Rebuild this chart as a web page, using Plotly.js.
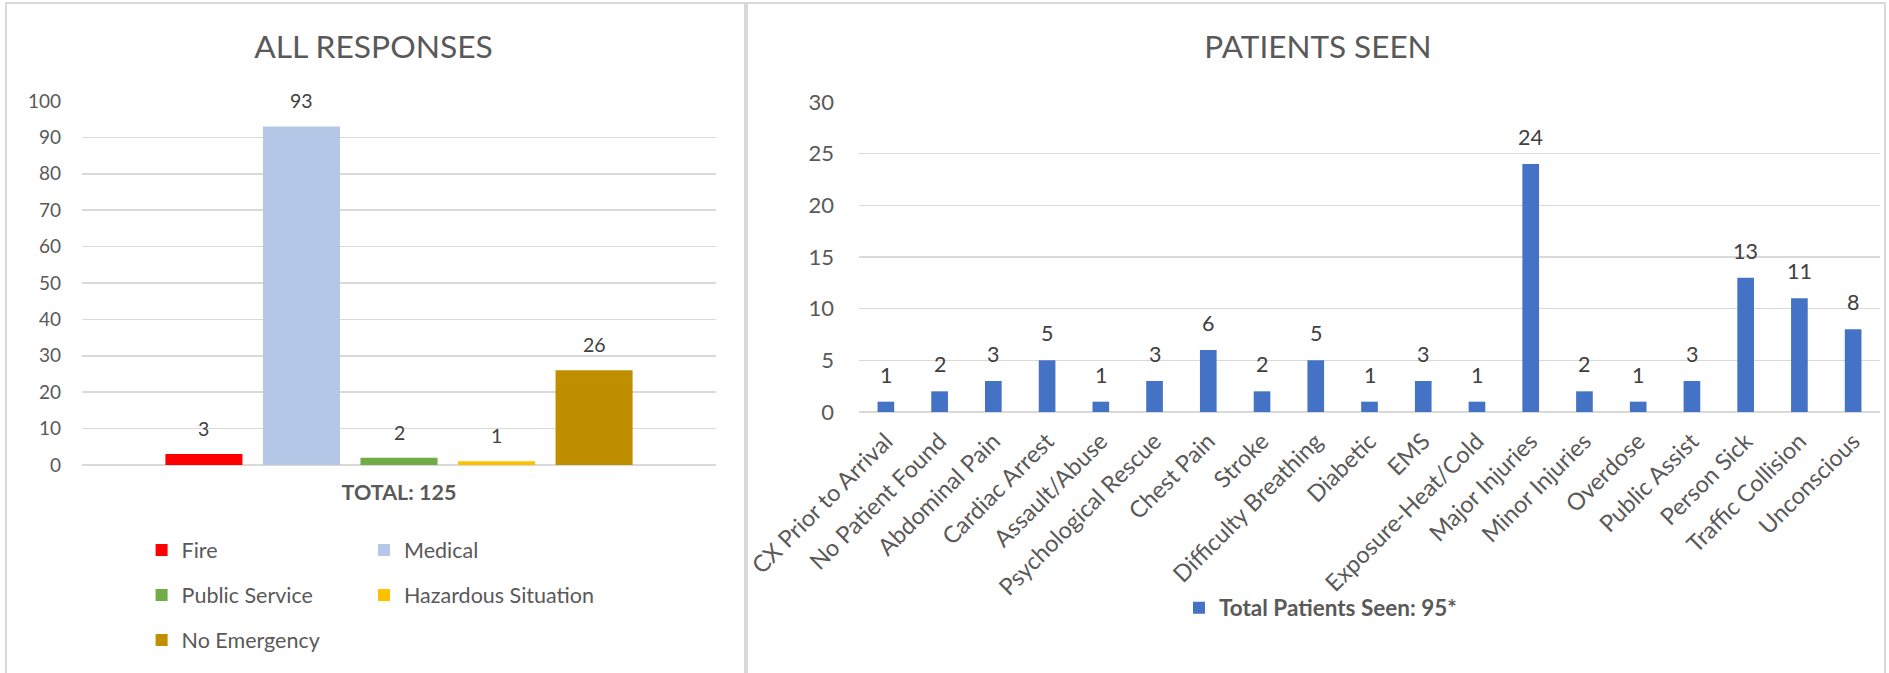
<!DOCTYPE html>
<html>
<head>
<meta charset="utf-8">
<script src="https://cdn.plot.ly/plotly-3.0.1.min.js"></script>
<style>
  html, body { margin: 0; padding: 0; background: #ffffff; }
  body { width: 1889px; height: 673px; position: relative; overflow: hidden; }
  #left { position: absolute; left: 0; top: 0; width: 747px; height: 673px; }
  #right { position: absolute; left: 747px; top: 0; width: 1142px; height: 673px; }
  .frame { position: absolute; border: 2px solid #d9d9d9; box-sizing: border-box; pointer-events: none; }
</style>
</head>
<body>
<div id="left"></div>
<div id="right"></div>
<div class="frame" style="left:5px; top:2px; width:741px; height:700px;"></div>
<div class="frame" style="left:746px; top:2px; width:1140px; height:700px;"></div>
<script>
// ---------- data: ALL RESPONSES ----------
const responseTitle = 'ALL RESPONSES';
const responseTotalLabel = 'TOTAL: 125';
const responseNames = ['Fire', 'Medical', 'Public Service', 'Hazardous Situation', 'No Emergency'];
const responseValues = [3, 93, 2, 1, 26];
const responseColors = ['#FF0000', '#B4C7E7', '#70AD47', '#FFC000', '#BF8F00'];

// ---------- data: PATIENTS SEEN ----------
const patientsTitle = 'PATIENTS SEEN';
const patientsSeriesName = 'Total Patients Seen: 95*';
const patientCategories = ['CX Prior to Arrival', 'No Patient Found', 'Abdominal Pain', 'Cardiac Arrest',
  'Assault/Abuse', 'Psychological Rescue', 'Chest Pain', 'Stroke', 'Difficulty Breathing', 'Diabetic',
  'EMS', 'Exposure-Heat/Cold', 'Major Injuries', 'Minor Injuries', 'Overdose', 'Public Assist',
  'Person Sick', 'Traffic Collision', 'Unconscious'];
const patientValues = [1, 2, 3, 5, 1, 3, 6, 2, 5, 1, 3, 1, 24, 2, 1, 3, 13, 11, 8];
const patientColor = '#4472C4';

const FONT = 'Lato, "Open Sans", sans-serif';
const GRID = '#d9d9d9';

// ---------- left chart ----------
// legend grid: two columns, three rows (one small legend per entry)
const legendIds = ['legend', 'legend2', 'legend3', 'legend4', 'legend5'];
const legendColX = [0.094, 0.4448];
const legendRowY = [1 - 550 / 673, 1 - 595 / 673, 1 - 640 / 673];

const leftTraces = responseNames.map((n, i) => ({
  type: 'bar', name: n, x: [n], y: [responseValues[i]],
  marker: { color: responseColors[i] }, legend: legendIds[i],
  hoverinfo: 'none'
}));
const leftAnn = responseNames.map((n, i) => ({
  x: n, y: responseValues[i], xref: 'x', yref: 'y', text: String(responseValues[i]),
  showarrow: false, yanchor: 'bottom', yshift: 12,
  font: { family: FONT, size: 19.5, color: '#404040' }
}));
const leftLayout = {
  width: 747, height: 673,
  margin: { l: 82, r: 31, t: 101, b: 208, pad: 0 },
  paper_bgcolor: 'rgba(0,0,0,0)', plot_bgcolor: 'rgba(0,0,0,0)',
  font: { family: FONT, color: '#595959' },
  title: { text: responseTitle, x: 0.5, xref: 'container', xanchor: 'center',
           y: 1 - 47 / 673, yref: 'container', yanchor: 'middle',
           font: { family: FONT, size: 31.8, color: '#595959' } },
  barmode: 'overlay', bargap: 0.21,
  xaxis: { type: 'category', categoryorder: 'array', categoryarray: responseNames,
           range: [-1.25, 5.25], showticklabels: false, showgrid: false, zeroline: false,
           showline: false, ticks: '', fixedrange: true,
           title: { text: '<b>' + responseTotalLabel + '</b>', standoff: 19,
                    font: { family: FONT, size: 21.5, color: '#595959' } } },
  yaxis: { range: [0, 100], dtick: 10, showgrid: true, gridcolor: GRID, gridwidth: 1.5,
           zeroline: true, zerolinecolor: GRID, zerolinewidth: 2, showline: false, ticks: '',
           ticklabelstandoff: 20, tickfont: { family: FONT, size: 19, color: '#595959' }, fixedrange: true },
  annotations: leftAnn,
  showlegend: true
};
legendIds.forEach((id, i) => {
  leftLayout[id] = {
    orientation: 'h', x: legendColX[i % 2], xanchor: 'left',
    y: legendRowY[Math.floor(i / 2)], yref: 'container', yanchor: 'middle',
    bgcolor: 'rgba(0,0,0,0)', borderwidth: 0,
    font: { family: FONT, size: 21.5, color: '#595959' }
  };
});
Plotly.newPlot('left', leftTraces, leftLayout, { displayModeBar: false, staticPlot: true });

// ---------- right chart ----------
const rightTraces = [{
  type: 'bar', name: patientsSeriesName, x: patientCategories, y: patientValues,
  marker: { color: patientColor }, hoverinfo: 'none', showlegend: true
}];
const rightAnn = patientCategories.map((c, i) => ({
  x: c, y: patientValues[i], xref: 'x', yref: 'y', text: String(patientValues[i]),
  showarrow: false, yanchor: 'bottom', yshift: 12,
  font: { family: FONT, size: 21.5, color: '#404040' }
}));
const rightLayout = {
  width: 1142, height: 673,
  margin: { l: 112, r: 9, t: 102, b: 261, pad: 0 },
  paper_bgcolor: 'rgba(0,0,0,0)', plot_bgcolor: 'rgba(0,0,0,0)',
  font: { family: FONT, color: '#595959' },
  title: { text: patientsTitle, x: 0.5, xref: 'container', xanchor: 'center',
           y: 1 - 47 / 673, yref: 'container', yanchor: 'middle',
           font: { family: FONT, size: 31.5, color: '#595959' } },
  bargap: 0.69,
  xaxis: { type: 'category', categoryorder: 'array', categoryarray: patientCategories,
           tickangle: -45, showgrid: false, zeroline: false, showline: false, ticks: '',
           ticklabelstandoff: 10, automargin: false,
           tickfont: { family: FONT, size: 23.5, color: '#595959' }, fixedrange: true },
  yaxis: { range: [0, 30], dtick: 5, showgrid: true, gridcolor: GRID, gridwidth: 1.5,
           zeroline: true, zerolinecolor: GRID, zerolinewidth: 2, showline: false, ticks: '',
           ticklabelstandoff: 24, tickfont: { family: FONT, size: 22, color: '#595959' }, fixedrange: true },
  legend: { orientation: 'h', x: (432 - 112) / 1021, xanchor: 'left', yref: 'container',
            y: 1 - 608 / 673, yanchor: 'middle', bgcolor: 'rgba(0,0,0,0)',
            font: { family: FONT, size: 22.5, color: '#595959', weight: 'bold' } },
  annotations: rightAnn,
  showlegend: true
};
Plotly.newPlot('right', rightTraces, rightLayout, { displayModeBar: false, staticPlot: true });
</script>
</body>
</html>
